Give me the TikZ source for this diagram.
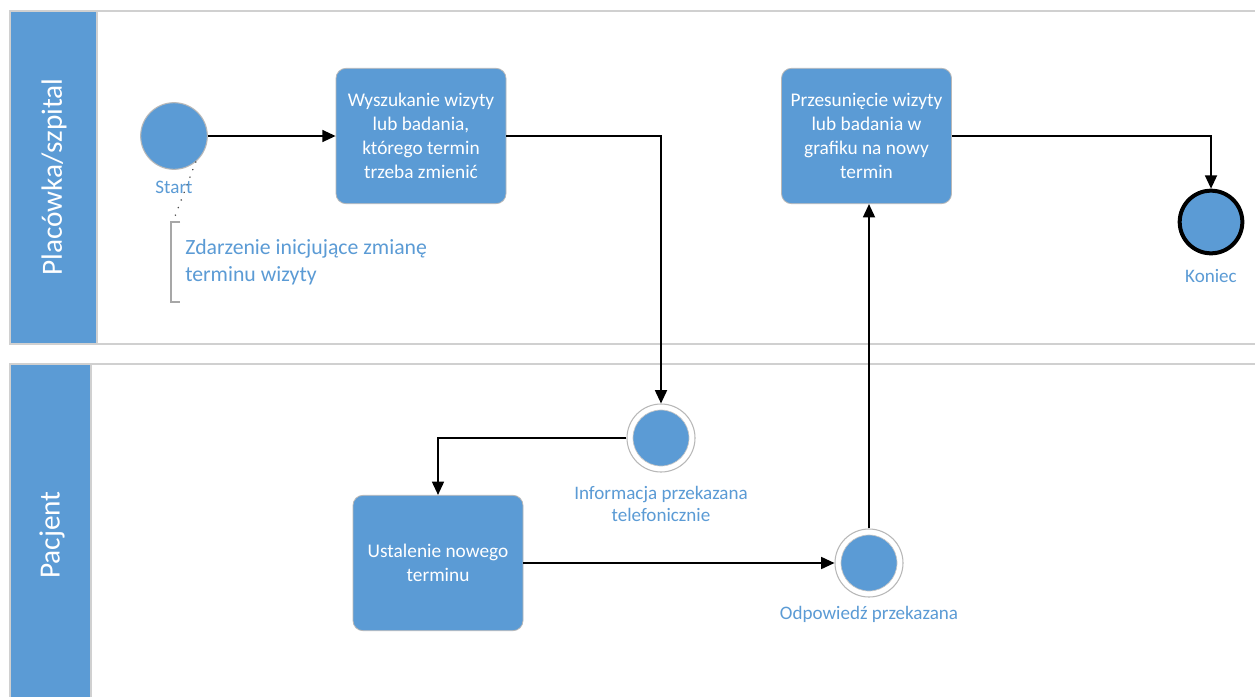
\documentclass[tikz,border=0pt]{standalone}
\usepackage{fontspec}
\setmainfont{Carlito}
\usetikzlibrary{arrows.meta}
\definecolor{bpmnblue}{HTML}{5B9BD5}
\definecolor{lanegray}{HTML}{D0D0D0}
\definecolor{rimgray}{HTML}{B8B8B8}
\tikzset{
  lanehead/.style={fill=bpmnblue, draw=lanegray, line width=0.8pt},
  laneline/.style={draw=lanegray, line width=1.2pt},
  lanetitle/.style={text=white, font=\fontsize{22}{24}\selectfont, rotate=90},
  task/.style={fill=bpmnblue, draw=rimgray, line width=0.6pt, rounded corners=7.5pt,
    minimum width=127.5pt, minimum height=101.5pt, text=white, align=center,
    font=\fontsize{14.5}{18}\selectfont, inner sep=0pt},
  startev/.style={circle, fill=bpmnblue, draw=rimgray, line width=0.8pt, minimum size=50pt, inner sep=0pt},
  midev/.style={circle, fill=white, draw=rimgray, line width=0.8pt, minimum size=51pt, inner sep=0pt},
  midin/.style={circle, fill=bpmnblue, draw=rimgray!80, line width=0.5pt, minimum size=42pt, inner sep=0pt},
  endev/.style={circle, fill=bpmnblue, draw=black, line width=3pt, minimum size=47pt, inner sep=0pt},
  evlabel/.style={text=bpmnblue, align=center, font=\fontsize{14.3}{17}\selectfont, inner sep=0pt},
  flow/.style={draw=black, line width=1.3pt, -{Triangle[length=10pt,width=9pt]}},
}
\begin{document}
\begin{tikzpicture}[x=0.75pt,y=-0.75pt]
\useasboundingbox (0,0) rectangle (1255,696);
\fill[white] (0,0) rectangle (1255,696);

% lane: Placówka/szpital
\draw[laneline] (10,11) -- (1255,11);
\draw[laneline] (10,344) -- (1255,344);
\draw[lanehead] (10,11) rectangle (97,344);
\node[lanetitle] (lane1) at (54,177) {Placówka/szpital};

% lane: Pacjent
\draw[laneline] (10,364) -- (1255,364);
\draw[lanehead] (10,364) rectangle (91,700);
\node[lanetitle] (lane2) at (52,535) {Pacjent};

% events and tasks
\node[startev] (start) at (174,136) {};
\node[evlabel] (startlbl) at (174,187) {Start};

\node[task] (find) at (421,136) {Wyszukanie wizyty\\lub badania,\\którego termin\\trzeba zmienić};
\node[task] (move) at (866.5,136) {Przesunięcie wizyty\\lub badania w\\grafiku na nowy\\termin};
\node[task] (agree) at (438,563) {Ustalenie nowego\\terminu};

\node[midev] (info) at (661,438) {};
\node[midin] at (info.center) {};
\node[evlabel] (infolbl) at (661,504) {Informacja przekazana\\telefonicznie};

\node[midev] (answer) at (869,563) {};
\node[midin] at (answer.center) {};
\node[evlabel] (answerlbl) at (869,614) {Odpowiedź przekazana};

\node[endev] (end) at (1211,222) {};
\node[evlabel] (endlbl) at (1211,276) {Koniec};

% annotation
\coordinate (annotop) at (174,219);
\draw[black!70, line width=1.2pt, dash pattern=on 0.1pt off 6pt, line cap=round]
  (start.-50) -- (annotop);
\draw[lanegray!80!black, line width=0.8pt] (180,222) -- (171,222) -- (171,302) -- (180,302);
\node[text=bpmnblue, anchor=west, align=left, font=\fontsize{16.3}{20}\selectfont, inner sep=0pt]
  (note) at (185,262) {Zdarzenie inicjujące zmianę\\terminu wizyty};

% sequence flows
\draw[flow] (start.east) -- (start.east -| find.west);
\draw[flow] (find.east) -| (info.north);
\draw[flow] (info.west) -| (agree.north);
\draw[flow] (agree.east) -- (answer.west);
\draw[flow] (answer.north) -- (move.south -| answer.north);
\draw[flow] (move.east) -| (end.north);
\end{tikzpicture}
\end{document}
